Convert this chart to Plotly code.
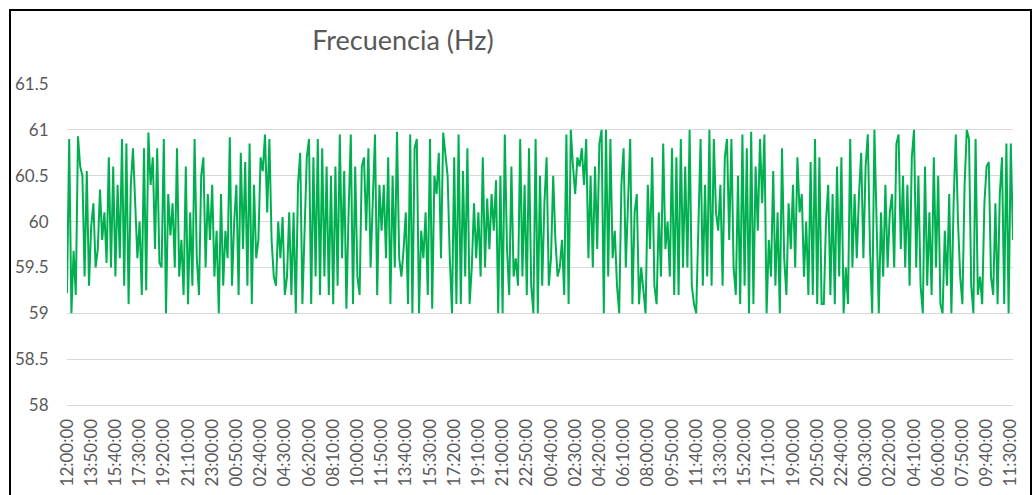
import plotly.graph_objects as go

# Frequency readings (Hz), one every 10 minutes
freq_part1 = [
    59.22, 60.90, 59.00, 59.68, 59.20, 60.93, 60.60, 60.50, 59.40, 60.55, 59.30, 59.95, 60.20, 59.50, 59.70,
    60.35, 59.80, 60.10, 59.55, 60.70, 59.50, 60.60, 59.40, 60.40, 59.60, 60.90, 59.30, 60.85, 59.10, 60.40,
    60.80, 60.20, 59.60, 60.00, 59.20, 60.80, 59.25, 60.97, 60.40, 60.70, 59.70, 60.80, 59.55,
    59.50, 60.90, 59.00, 60.30, 59.85, 60.20, 59.50, 60.80, 59.40, 59.80, 59.20, 60.60, 59.10, 60.10, 59.30,
    60.90, 59.60, 59.20, 60.50, 60.70, 59.50, 60.30, 59.80, 60.40, 59.40, 59.90, 59.00, 60.30, 59.30, 59.90,
    59.60, 60.92, 59.30, 60.00, 60.40, 59.20, 60.75, 59.70, 60.65, 59.30, 60.85, 59.10, 60.40,
    59.60, 59.80, 60.70, 60.55, 60.95, 60.10, 60.90, 59.80, 59.40, 59.30, 60.00, 59.60, 60.05, 59.20, 59.40,
    60.10, 59.20, 60.10, 59.00, 60.40, 60.75, 59.10, 59.90, 60.70, 60.90, 59.10, 60.70, 59.40, 60.90, 59.20,
    60.80, 59.40, 60.60, 59.20, 60.50, 59.10, 60.60, 59.30, 60.95, 59.60, 60.55, 59.05, 60.10,
]
freq_part2 = [
    60.95, 59.10, 60.60, 59.40, 59.20, 60.60, 60.70, 59.90, 60.80, 59.50, 60.30, 60.95, 59.20, 60.40, 59.90,
    60.40, 59.60, 60.70, 59.10, 60.50, 59.50, 60.98, 59.60, 59.40, 59.70, 60.10, 59.10, 60.95, 59.00, 60.80,
    60.90, 59.00, 59.90, 59.60, 60.10, 59.20, 60.90, 59.05, 60.50, 60.30, 60.75, 59.60, 60.97,
    60.70, 60.50, 59.60, 59.00, 60.70, 59.10, 60.95, 59.10, 60.55, 59.40, 60.80, 59.10, 59.50, 60.20, 59.60,
    60.10, 59.40, 60.70, 59.50, 60.25, 59.70, 60.30, 59.90, 60.45, 59.00, 60.50, 59.00, 60.95, 59.70, 59.20,
    60.60, 59.40, 59.60, 59.30, 60.90, 59.40, 60.40, 59.20, 60.80, 59.30, 59.00, 60.90, 59.00,
    60.50, 59.30, 60.20, 60.70, 59.30, 59.60, 60.50, 59.80, 59.40, 59.50, 59.80, 59.20, 60.95, 59.10, 61.00,
    60.60, 60.30, 60.70, 60.60, 60.80, 60.40, 60.90, 59.60, 60.50, 59.50, 60.60, 59.70, 60.85, 61.00, 59.00,
    61.00, 59.40, 60.90, 59.60, 59.90, 59.30, 59.00, 60.40, 60.80, 59.50, 60.30, 60.90, 59.10,
]
freq_part3 = [
    60.10, 60.30, 59.10, 59.50, 59.20, 59.00, 60.40, 59.70, 60.70, 59.30, 59.10, 60.10, 59.40, 60.85, 59.70,
    60.00, 59.40, 60.80, 59.20, 60.70, 59.20, 60.90, 59.50, 60.60, 59.50, 61.00, 59.30, 59.10, 59.00, 59.90,
    60.90, 59.30, 60.40, 59.40, 61.00, 59.30, 60.90, 60.10, 59.90, 60.40, 59.30, 60.70, 60.90,
    59.80, 60.90, 59.50, 59.20, 60.50, 59.10, 60.95, 59.30, 60.80, 59.00, 60.98, 59.10, 60.60, 59.90, 60.90,
    60.20, 60.95, 59.00, 59.80, 59.40, 60.55, 59.30, 60.10, 59.00, 60.80, 59.60, 59.20, 60.20, 59.70, 60.40,
    59.50, 60.70, 60.10, 60.30, 59.40, 60.00, 59.20, 60.65, 59.20, 60.90, 59.10, 60.70, 59.10,
    59.10, 60.00, 60.40, 59.20, 60.30, 59.10, 60.60, 59.40, 60.70, 59.00, 59.50, 59.10, 60.90, 59.50, 60.30,
    59.60, 60.30, 60.75, 59.60, 60.60, 60.95, 59.70, 59.00, 61.00, 60.00, 59.00, 60.10, 59.40, 60.40, 59.50,
    60.10, 60.30, 59.50, 60.85, 60.95, 59.70, 60.50, 59.50, 60.40, 59.30, 60.70, 61.00, 59.50,
    60.50, 59.30, 59.00, 60.60, 59.30, 60.10, 59.20, 60.70, 59.50, 60.50, 59.10, 59.00, 59.90, 59.30, 60.30,
    59.00, 60.20, 60.95, 60.00, 59.40, 59.10, 60.40, 61.00, 60.90, 59.30, 59.00, 60.90, 59.20, 59.40, 59.10,
    60.20, 60.60, 60.65, 59.40, 59.20, 60.20, 59.10, 60.30, 60.70, 59.10, 60.85, 59.00, 60.85, 59.80,
]
frecuencia = freq_part1 + freq_part2 + freq_part3

# Time labels shown on the horizontal axis (every 11th sample)
tick_labels = [
    "12:00:00", "13:50:00", "15:40:00", "17:30:00", "19:20:00", "21:10:00", "23:00:00", "00:50:00",
    "02:40:00", "04:30:00", "06:20:00", "08:10:00", "10:00:00", "11:50:00", "13:40:00", "15:30:00",
    "17:20:00", "19:10:00", "21:00:00", "22:50:00", "00:40:00", "02:30:00", "04:20:00", "06:10:00",
    "08:00:00", "09:50:00", "11:40:00", "13:30:00", "15:20:00", "17:10:00", "19:00:00", "20:50:00",
    "22:40:00", "00:30:00", "02:20:00", "04:10:00", "06:00:00", "07:50:00", "09:40:00", "11:30:00",
]
label_step = 11

y_ticks = [58, 58.5, 59, 59.5, 60, 60.5, 61, 61.5]

n = len(frecuencia)
x_idx = list(range(n))
tick_pos = [i * label_step for i in range(len(tick_labels))]

W, H = 1034, 495
L, R, T, B = 67, 21, 84, 90
pw, ph = W - L - R, H - T - B

fig = go.Figure(
    go.Scatter(
        x=x_idx,
        y=frecuencia,
        mode="lines",
        line=dict(color="#00B050", width=2),
        hoverinfo="y",
    )
)

# outer chart frame
def px_to_paper_x(px):
    return (px - L) / pw

def px_to_paper_y(py):
    return (H - B - py) / ph

fig.add_shape(
    type="rect",
    xref="paper", yref="paper",
    x0=px_to_paper_x(10), x1=px_to_paper_x(1031),
    y0=px_to_paper_y(505), y1=px_to_paper_y(10),
    line=dict(color="black", width=2),
    fillcolor="rgba(0,0,0,0)",
    layer="above",
)

fig.update_layout(
    width=W, height=H,
    margin=dict(l=L, r=R, t=T, b=B, autoexpand=False),
    paper_bgcolor="white",
    plot_bgcolor="white",
    showlegend=False,
    font=dict(family="Lato, 'Open Sans', sans-serif", color="#595959"),
    title=dict(
        text="Frecuencia (Hz)",
        font=dict(size=27, color="#595959", family="Lato, sans-serif"),
        x=403 / W, xanchor="center", xref="container",
        y=1 - 41 / H, yanchor="middle", yref="container",
    ),
    xaxis=dict(
        range=[0, n - 1],
        tickmode="array",
        tickvals=tick_pos,
        ticktext=tick_labels,
        tickangle=-90,
        tickfont=dict(size=17, color="#595959"),
        showgrid=False,
        zeroline=False,
        showline=True,
        linecolor="#D9D9D9",
        linewidth=1,
        ticks="outside",
        ticklen=6,
        tickcolor="rgba(0,0,0,0)",
    ),
    yaxis=dict(
        range=[58, 61.5],
        tickmode="array",
        tickvals=y_ticks,
        ticktext=[f"{v:g}" for v in y_ticks],
        tickfont=dict(size=17, color="#595959"),
        showgrid=True,
        gridcolor="#D9D9D9",
        gridwidth=1,
        zeroline=False,
        showline=False,
        ticks="outside",
        ticklen=14,
        tickcolor="rgba(0,0,0,0)",
    ),
)

fig.write_html("out.html")
